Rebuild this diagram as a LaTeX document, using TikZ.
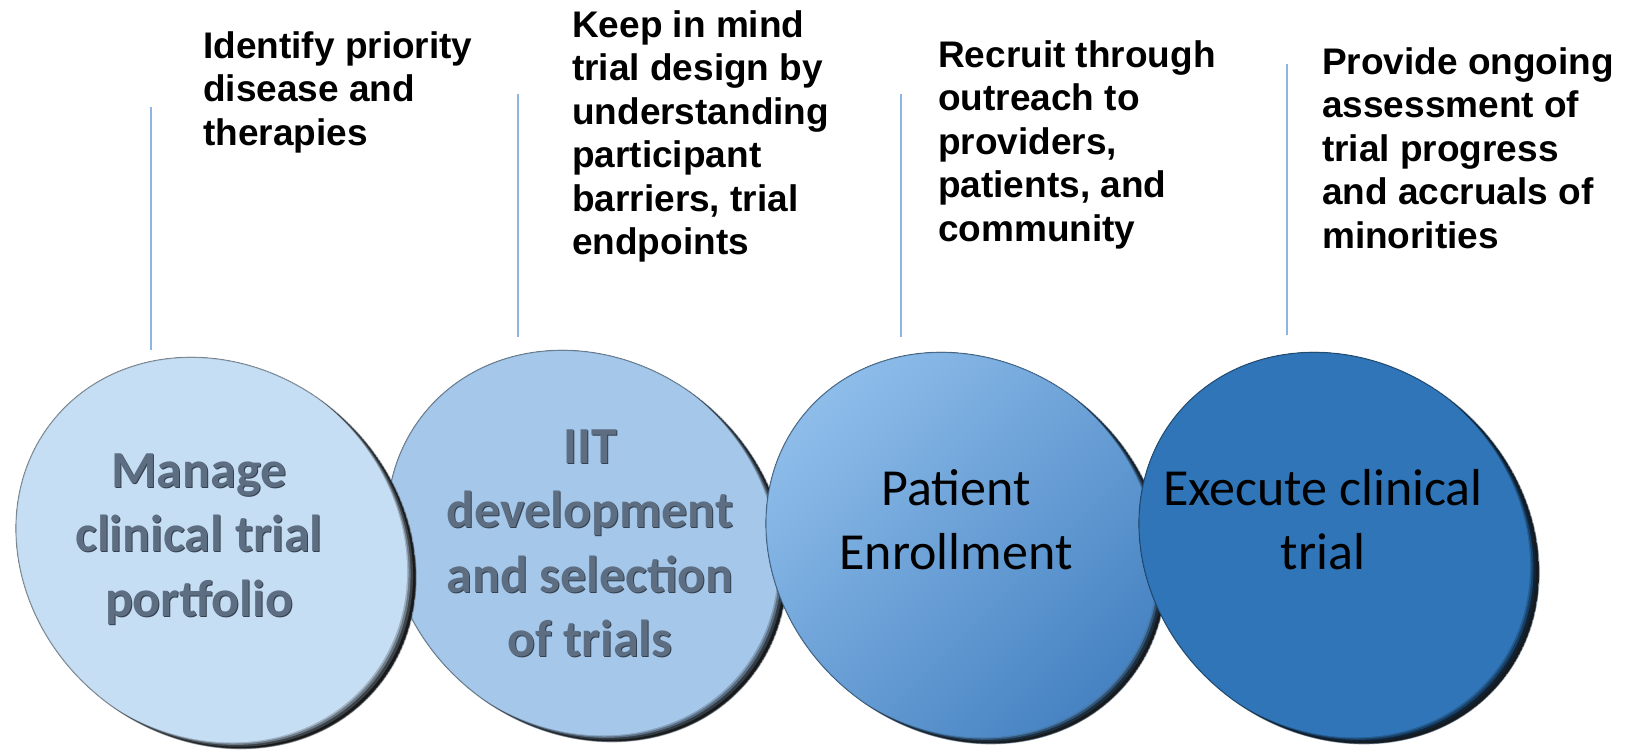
\documentclass[tikz,border=0pt]{standalone}
\usepackage{fontspec}
\setmainfont{Liberation Sans}
\newfontfamily\calibri{Carlito}

\definecolor{leadercol}{HTML}{8DB4E2}
\definecolor{discA}{HTML}{C6DEF3}
\definecolor{discB}{HTML}{A4C7EA}
\definecolor{discC}{HTML}{5A99D6}
\definecolor{discCl}{HTML}{92C0EC}
\definecolor{discCm}{HTML}{5A98D6}
\definecolor{discCd}{HTML}{4481C1}
\definecolor{discD}{HTML}{2F75B8}
\definecolor{embossmain}{HTML}{5E6E82}
\definecolor{embossdark}{HTML}{34404E}

% one tilted disc with a dark bevelled rim on its lower right side
% #1,#2 centre; #3 base colour; #4 fill options of the face
\newcommand{\drawdisc}[4]{%
  \begin{scope}
    \clip[shift={(#1,#2)},rotate=-40] (0,0) ellipse [x radius=210, y radius=185];
    \fill[black!90, shift={(#1,#2)},rotate=-40] (0,0) ellipse [x radius=210, y radius=185];
    \fill[#3!30!black, shift={(#1-3,#2-2)},rotate=-40] (0,0) ellipse [x radius=210, y radius=185];
    \fill[#3!55!black, shift={(#1-5.5,#2-3.8)},rotate=-40] (0,0) ellipse [x radius=210, y radius=185];
    \fill[#3!80!black, shift={(#1-7.5,#2-5.2)},rotate=-40] (0,0) ellipse [x radius=210, y radius=185];
    \path[#4, shift={(#1-9,#2-6.3)},rotate=-40] (0,0) ellipse [x radius=210, y radius=185];
  \end{scope}
  \draw[#3!45!black, line width=1.2pt, opacity=.55, shift={(#1,#2)},rotate=-40]
    (0,0) ellipse [x radius=210, y radius=185];
}

\begin{document}
\begin{tikzpicture}[x=1pt,y=-1pt,
  note/.style={anchor=base west, align=left, inner sep=0pt,
    font=\bfseries\fontsize{37}{43.5}\selectfont, text=black},
  disctext/.style={anchor=base, align=center, inner sep=0pt,
    font=\calibri\fontsize{52}{64}\selectfont, text=black},
  embossed/.style={disctext, font=\calibri\bfseries\fontsize{52}{64.5}\selectfont, text=embossmain},
  embshadow/.style={embossed, text=embossdark},
  leader/.style={draw=leadercol, line width=1.8pt},
]
\useasboundingbox (0,0) rectangle (1626,750);
\fill[white] (0,0) rectangle (1626,750);

% leader lines above the discs
\coordinate (l1a) at (151,107); \coordinate (l1b) at (151,350);
\coordinate (l2a) at (518,94);  \coordinate (l2b) at (518,337);
\coordinate (l3a) at (901,94);  \coordinate (l3b) at (901,337);
\coordinate (l4a) at (1287,64); \coordinate (l4b) at (1287,335);
\draw[leader] (l1a) -- (l1b);
\draw[leader] (l2a) -- (l2b);
\draw[leader] (l3a) -- (l3b);
\draw[leader] (l4a) -- (l4b);

% discs, back to front
\drawdisc{587}{546}{discB}{fill=discB}
\drawdisc{216}{553}{discA}{fill=discA}
\drawdisc{966}{548}{discC}{left color=discCl, middle color=discCm, right color=discCd, shading angle=45}
\drawdisc{1339}{548}{discD}{fill=discD}

% disc labels (anchored on the baseline of the last line)
\node[embshadow] (s1) at (200,617) {Manage\\clinical trial\\portfolio};
\node[embossed]  (d1) at (199,616) {Manage\\clinical trial\\portfolio};
\node[embshadow] (s2) at (591,657.5) {IIT\\development\\and selection\\of trials};
\node[embossed]  (d2) at (590,656.5) {IIT\\development\\and selection\\of trials};
\node[disctext]  (d3) at (956,569) {Patient\\Enrollment};
\node[disctext]  (d4) at (1323,569) {Execute clinical\\trial};

% notes above the discs (anchored on the baseline of the last line)
\node[note] (t1) at (203,145) {Identify priority\\disease and\\therapies};
\node[note] (t2) at (572,254.5) {Keep in mind\\trial design by\\understanding\\participant\\barriers, trial\\endpoints};
\node[note] (t3) at (938,241) {Recruit through\\outreach to\\providers,\\patients, and\\community};
\node[note] (t4) at (1322,248) {Provide ongoing\\assessment of\\trial progress\\and accruals of\\minorities};
\end{tikzpicture}
\end{document}
